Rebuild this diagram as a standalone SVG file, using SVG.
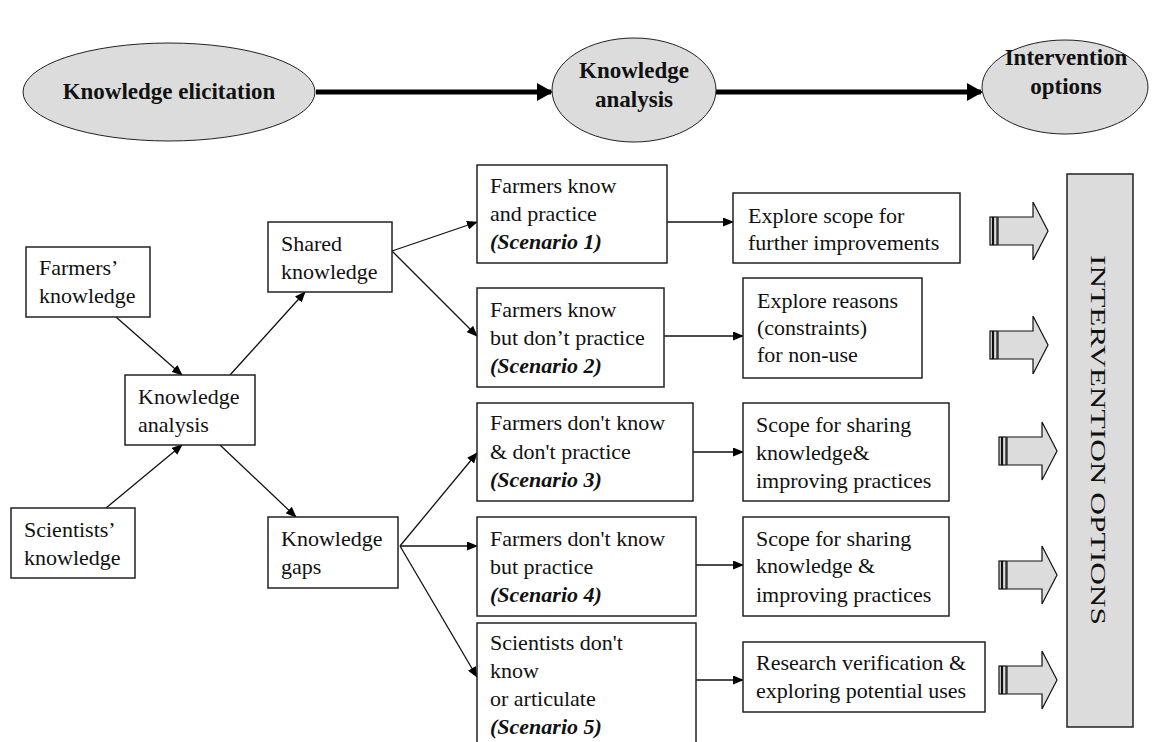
<svg xmlns="http://www.w3.org/2000/svg" width="1153" height="742" viewBox="0 0 1153 742">
<style>
text{font-family:"Liberation Serif","Times New Roman",serif;font-size:22px;fill:#111}
.b{font-weight:bold;font-size:23px}
.sc{font-weight:bold;font-style:italic}
.box{fill:#fff;stroke:#222;stroke-width:1.5}
.ell{fill:#dcdcdc;stroke:#222;stroke-width:1}
.thin{stroke:#111;stroke-width:1.3;fill:none;marker-end:url(#ah)}
.thick{stroke:#000;stroke-width:5;fill:none;marker-end:url(#ahb)}
.big{fill:#dcdcdc;stroke:#111;stroke-width:1.2}
</style>
<defs>
<marker id="ah" markerUnits="userSpaceOnUse" markerWidth="11" markerHeight="9" refX="10" refY="4.5" orient="auto"><path d="M0,0 L11,4.5 L0,9 z" fill="#000"/></marker>
<marker id="ahb" markerUnits="userSpaceOnUse" markerWidth="16" markerHeight="18" refX="14" refY="9" orient="auto"><path d="M0,0 L16,9 L0,18 z" fill="#000"/></marker>
<g id="sarrow">
<rect class="big" x="0" y="-14" width="2.5" height="28"/>
<rect class="big" x="3.5" y="-14" width="3.5" height="28"/>
<polygon class="big" points="8,-14 43,-14 43,-29 58,0 43,29 43,14 8,14"/>
</g>
</defs>
<rect width="1153" height="742" fill="#fff"/>

<g id="connectors">
<line class="thick" x1="316" y1="92" x2="551" y2="92"/>
<line class="thick" x1="716" y1="92" x2="981" y2="92"/>
<line class="thin" x1="116" y1="317" x2="182" y2="375"/>
<line class="thin" x1="106" y1="508" x2="182" y2="445"/>
<line class="thin" x1="230" y1="375" x2="305" y2="292"/>
<line class="thin" x1="220" y1="445" x2="296" y2="517"/>
<line class="thin" x1="392" y1="251" x2="477" y2="222"/>
<line class="thin" x1="392" y1="251" x2="477" y2="336"/>
<line class="thin" x1="400" y1="546" x2="477" y2="453"/>
<line class="thin" x1="400" y1="546" x2="477" y2="546"/>
<line class="thin" x1="400" y1="546" x2="477" y2="677"/>
<line class="thin" x1="667" y1="222" x2="733" y2="222"/>
<line class="thin" x1="664" y1="336" x2="743" y2="336"/>
<line class="thin" x1="693" y1="452" x2="743" y2="452"/>
<line class="thin" x1="696" y1="565" x2="743" y2="565"/>
<line class="thin" x1="696" y1="680" x2="743" y2="680"/>
<use href="#sarrow" x="990" y="231"/>
<use href="#sarrow" x="990" y="345"/>
<use href="#sarrow" x="999" y="451"/>
<use href="#sarrow" x="999" y="575"/>
<use href="#sarrow" x="999" y="680"/>
</g>

<g id="elicitation">
<ellipse class="ell" cx="169" cy="92" rx="146" ry="49"/>
<text class="b" x="169" y="99" text-anchor="middle">Knowledge elicitation</text>
</g>
<g id="analysis-top">
<ellipse class="ell" cx="634" cy="90" rx="82" ry="52"/>
<text class="b" x="634" y="78" text-anchor="middle">Knowledge</text>
<text class="b" x="634" y="107" text-anchor="middle">analysis</text>
</g>
<g id="intervention-top">
<ellipse class="ell" cx="1065" cy="87" rx="83" ry="47"/>
<text class="b" x="1066" y="65" text-anchor="middle">Intervention</text>
<text class="b" x="1066" y="94" text-anchor="middle">options</text>
</g>

<g id="farmers">
<rect class="box" x="26" y="247" width="124" height="70"/>
<text x="39" y="275">Farmers’</text>
<text x="39" y="303">knowledge</text>
</g>
<g id="scientists">
<rect class="box" x="11" y="508" width="124" height="70"/>
<text x="24" y="537">Scientists’</text>
<text x="24" y="565">knowledge</text>
</g>
<g id="ka">
<rect class="box" x="125" y="375" width="130" height="70"/>
<text x="138" y="404">Knowledge</text>
<text x="138" y="432">analysis</text>
</g>
<g id="shared">
<rect class="box" x="268" y="222" width="124" height="70"/>
<text x="281" y="251">Shared</text>
<text x="281" y="279">knowledge</text>
</g>
<g id="gaps">
<rect class="box" x="268" y="517" width="130" height="71"/>
<text x="281" y="546">Knowledge</text>
<text x="281" y="574">gaps</text>
</g>

<g id="s1">
<rect class="box" x="477" y="165" width="190" height="98"/>
<text x="490" y="193">Farmers know</text>
<text x="490" y="221">and practice</text>
<text class="sc" x="490" y="249">(Scenario 1)</text>
</g>
<g id="s2">
<rect class="box" x="477" y="288" width="187" height="99"/>
<text x="490" y="317">Farmers know</text>
<text x="490" y="345">but don’t practice</text>
<text class="sc" x="490" y="373">(Scenario 2)</text>
</g>
<g id="s3">
<rect class="box" x="477" y="403" width="216" height="98"/>
<text x="490" y="430">Farmers don't know</text>
<text x="490" y="459">&amp; don't practice</text>
<text class="sc" x="490" y="487">(Scenario 3)</text>
</g>
<g id="s4">
<rect class="box" x="477" y="517" width="219" height="99"/>
<text x="490" y="546">Farmers don't know</text>
<text x="490" y="574">but practice</text>
<text class="sc" x="490" y="602">(Scenario 4)</text>
</g>
<g id="s5">
<rect class="box" x="477" y="623" width="219" height="130"/>
<text x="490" y="650">Scientists don't</text>
<text x="490" y="678">know</text>
<text x="490" y="706">or articulate</text>
<text class="sc" x="490" y="734">(Scenario 5)</text>
</g>

<g id="r1">
<rect class="box" x="733" y="193" width="227" height="70"/>
<text x="748" y="223">Explore scope for</text>
<text x="748" y="250">further improvements</text>
</g>
<g id="r2">
<rect class="box" x="743" y="278" width="179" height="100"/>
<text x="757" y="308">Explore reasons</text>
<text x="757" y="335">(constraints)</text>
<text x="757" y="362">for non-use</text>
</g>
<g id="r3">
<rect class="box" x="743" y="403" width="206" height="98"/>
<text x="756" y="432">Scope for sharing</text>
<text x="756" y="460">knowledge&amp;</text>
<text x="756" y="488">improving practices</text>
</g>
<g id="r4">
<rect class="box" x="743" y="517" width="206" height="99"/>
<text x="756" y="546">Scope for sharing</text>
<text x="756" y="573">knowledge &amp;</text>
<text x="756" y="602">improving practices</text>
</g>
<g id="r5">
<rect class="box" x="743" y="642" width="242" height="70"/>
<text x="756" y="670">Research verification &amp;</text>
<text x="756" y="698">exploring potential uses</text>
</g>

<g id="intervention-options">
<rect x="1067" y="174" width="66" height="553" fill="#dcdcdc" stroke="#222" stroke-width="1.5"/>
<text x="0" y="0" transform="translate(1091,440) rotate(90)" text-anchor="middle" font-size="29" textLength="370" lengthAdjust="spacingAndGlyphs">INTERVENTION OPTIONS</text>
</g>
</svg>
